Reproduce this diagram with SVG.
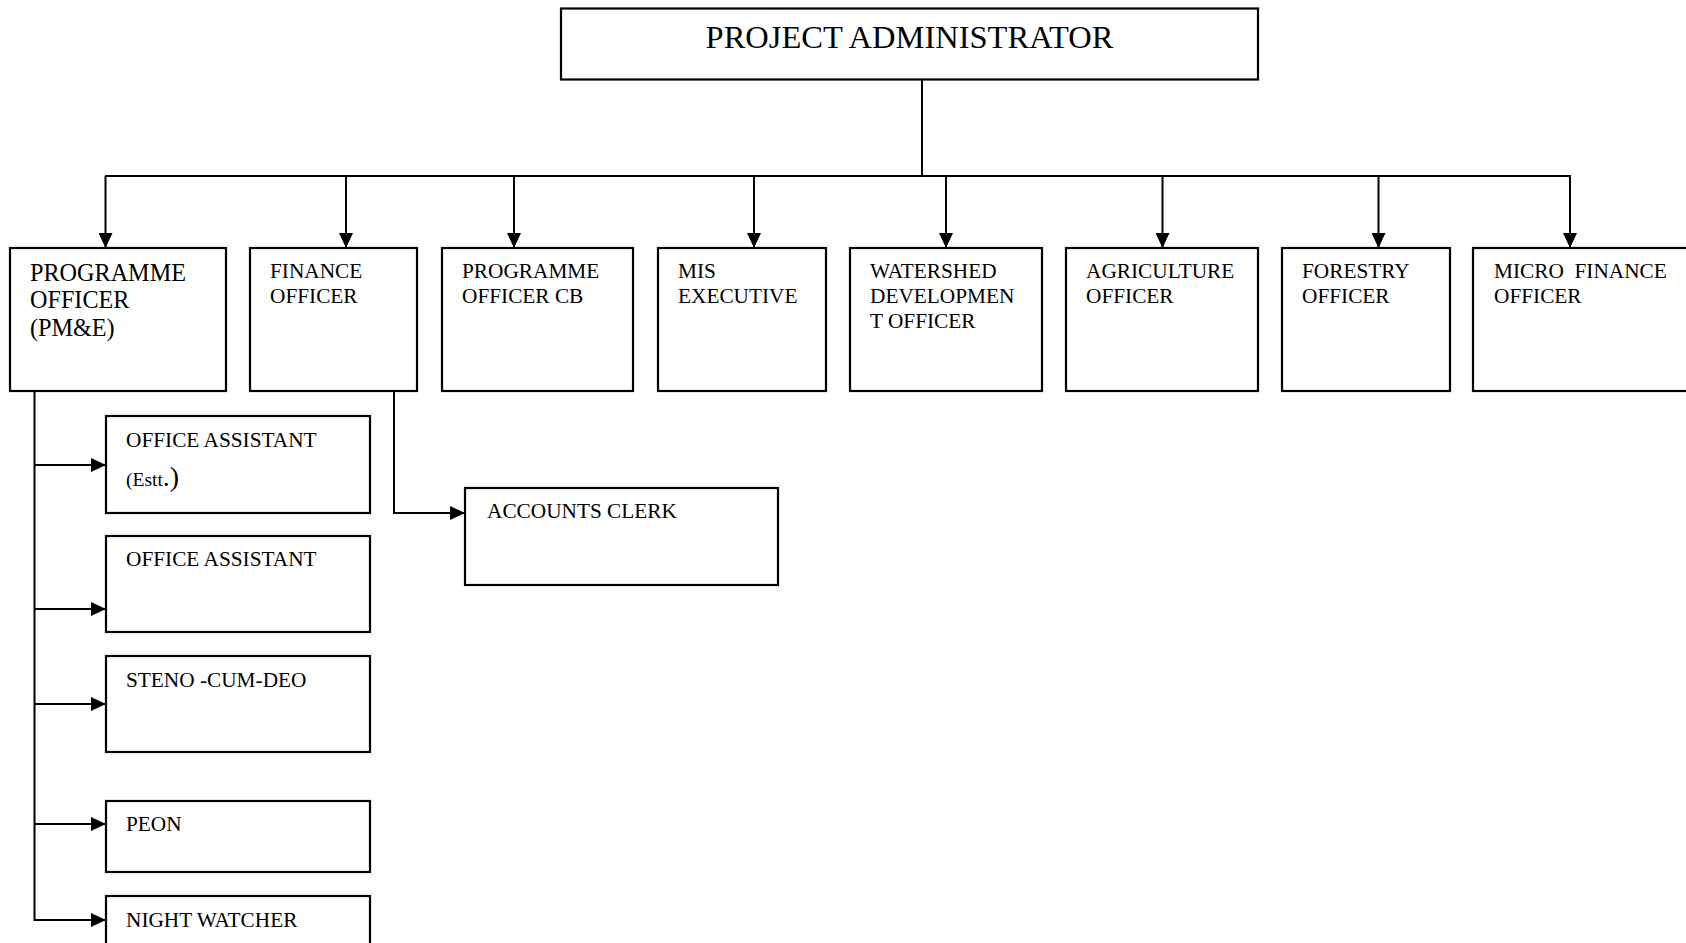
<svg xmlns="http://www.w3.org/2000/svg" width="1686" height="943" viewBox="0 0 1686 943">
<style>
  .box { fill: #ffffff; stroke: #000000; stroke-width: 2.2; }
  .ln { fill: none; stroke: #000000; stroke-width: 2; }
  .t { font-family: "Liberation Serif", "Times New Roman", serif; fill: #000000; }
  .t21 { font-size: 21.3px; }
  .t20 { font-size: 21.3px; }
</style>
<defs>
  <marker id="arr" viewBox="0 0 15 14" refX="15" refY="7" markerWidth="15" markerHeight="14" markerUnits="userSpaceOnUse" orient="auto">
    <path d="M0,0 L15,7 L0,14 Z" fill="#000000"/>
  </marker>
</defs>
<rect width="1686" height="943" fill="#ffffff"/>

<g id="connectors">
  <line class="ln" x1="922" y1="80" x2="922" y2="176"/>
  <line class="ln" x1="105" y1="176" x2="1571" y2="176"/>
  <line class="ln" x1="105.5" y1="176" x2="105.5" y2="248" marker-end="url(#arr)"/>
  <line class="ln" x1="346" y1="176" x2="346" y2="248" marker-end="url(#arr)"/>
  <line class="ln" x1="514" y1="176" x2="514" y2="248" marker-end="url(#arr)"/>
  <line class="ln" x1="754" y1="176" x2="754" y2="248" marker-end="url(#arr)"/>
  <line class="ln" x1="946" y1="176" x2="946" y2="248" marker-end="url(#arr)"/>
  <line class="ln" x1="1162.5" y1="176" x2="1162.5" y2="248" marker-end="url(#arr)"/>
  <line class="ln" x1="1378.5" y1="176" x2="1378.5" y2="248" marker-end="url(#arr)"/>
  <line class="ln" x1="1570" y1="176" x2="1570" y2="248" marker-end="url(#arr)"/>
  <line class="ln" x1="34.5" y1="392" x2="34.5" y2="921"/>
  <line class="ln" x1="34.5" y1="465" x2="106" y2="465" marker-end="url(#arr)"/>
  <line class="ln" x1="34.5" y1="609" x2="106" y2="609" marker-end="url(#arr)"/>
  <line class="ln" x1="34.5" y1="704" x2="106" y2="704" marker-end="url(#arr)"/>
  <line class="ln" x1="34.5" y1="824" x2="106" y2="824" marker-end="url(#arr)"/>
  <line class="ln" x1="34.5" y1="920" x2="106" y2="920" marker-end="url(#arr)"/>
  <polyline class="ln" points="394,392 394,513 465,513" marker-end="url(#arr)"/>
</g>

<g id="project-administrator">
  <rect class="box" x="561" y="8.5" width="697" height="71"/>
  <text class="t" x="909.5" y="48" font-size="32.5" text-anchor="middle">PROJECT ADMINISTRATOR</text>
</g>

<g id="programme-officer-pme">
  <rect class="box" x="10" y="248" width="216" height="143"/>
  <text class="t" font-size="24.2"><tspan x="30" y="281">PROGRAMME</tspan><tspan x="30" y="308">OFFICER</tspan><tspan x="30" y="336">(PM&amp;E)</tspan></text>
</g>

<g id="finance-officer">
  <rect class="box" x="250" y="248" width="167" height="143"/>
  <text class="t t21"><tspan x="270" y="278">FINANCE</tspan><tspan x="270" y="303">OFFICER</tspan></text>
</g>

<g id="programme-officer-cb">
  <rect class="box" x="442" y="248" width="191" height="143"/>
  <text class="t t21"><tspan x="462" y="278">PROGRAMME</tspan><tspan x="462" y="303">OFFICER CB</tspan></text>
</g>

<g id="mis-executive">
  <rect class="box" x="658" y="248" width="168" height="143"/>
  <text class="t t21"><tspan x="678" y="278">MIS</tspan><tspan x="678" y="303">EXECUTIVE</tspan></text>
</g>

<g id="watershed-development-officer">
  <rect class="box" x="850" y="248" width="192" height="143"/>
  <text class="t t21"><tspan x="870" y="278">WATERSHED</tspan><tspan x="870" y="303">DEVELOPMEN</tspan><tspan x="870" y="328">T OFFICER</tspan></text>
</g>

<g id="agriculture-officer">
  <rect class="box" x="1066" y="248" width="192" height="143"/>
  <text class="t t21"><tspan x="1086" y="278">AGRICULTURE</tspan><tspan x="1086" y="303">OFFICER</tspan></text>
</g>

<g id="forestry-officer">
  <rect class="box" x="1282" y="248" width="168" height="143"/>
  <text class="t t21"><tspan x="1302" y="278">FORESTRY</tspan><tspan x="1302" y="303">OFFICER</tspan></text>
</g>

<g id="micro-finance-officer">
  <rect class="box" x="1473" y="248" width="240" height="143"/>
  <text class="t t21" xml:space="preserve"><tspan x="1494" y="278">MICRO  FINANCE</tspan><tspan x="1494" y="303">OFFICER</tspan></text>
</g>

<g id="office-assistant-estt">
  <rect class="box" x="106" y="416" width="264" height="97"/>
  <text class="t t20" x="126" y="447">OFFICE ASSISTANT</text>
  <text class="t" x="126" y="486"><tspan font-size="19.5">(Estt</tspan><tspan font-size="28">.)</tspan></text>
</g>

<g id="office-assistant">
  <rect class="box" x="106" y="536" width="264" height="96"/>
  <text class="t t20" x="126" y="566">OFFICE ASSISTANT</text>
</g>

<g id="steno-cum-deo">
  <rect class="box" x="106" y="656" width="264" height="96"/>
  <text class="t t20" x="126" y="687">STENO -CUM-DEO</text>
</g>

<g id="peon">
  <rect class="box" x="106" y="801" width="264" height="71"/>
  <text class="t t20" x="126" y="831">PEON</text>
</g>

<g id="night-watcher">
  <rect class="box" x="106" y="896" width="264" height="70"/>
  <text class="t t20" x="126" y="927">NIGHT WATCHER</text>
</g>

<g id="accounts-clerk">
  <rect class="box" x="465" y="488" width="313" height="97"/>
  <text class="t t20" x="487" y="518">ACCOUNTS CLERK</text>
</g>
</svg>
